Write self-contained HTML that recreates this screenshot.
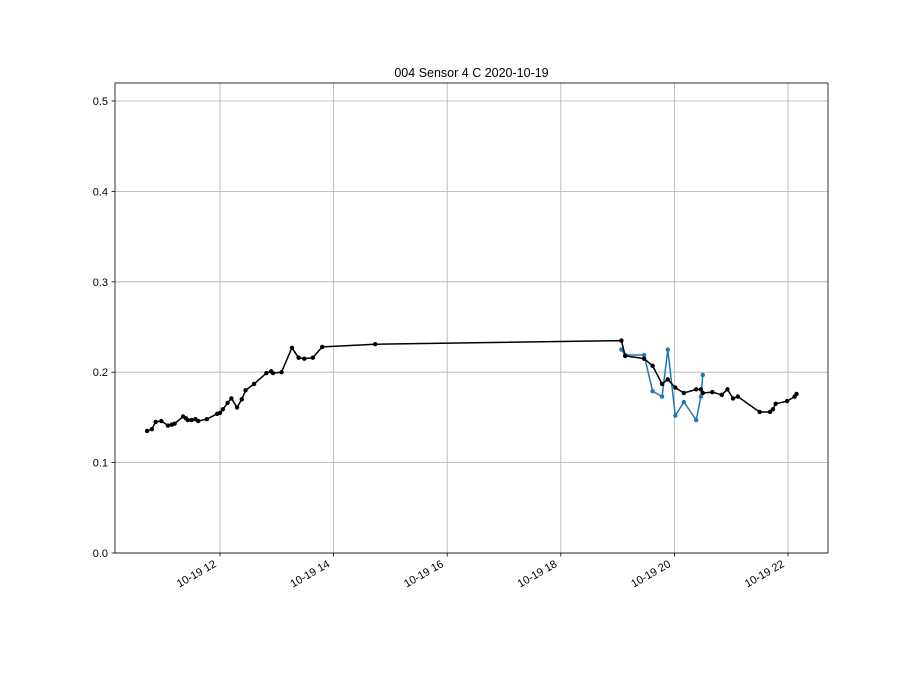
<!DOCTYPE html>
<html><head><meta charset="utf-8"><style>
html,body{margin:0;padding:0;background:#fff;}
svg{display:block;font-family:"Liberation Sans","DejaVu Sans",sans-serif;}
</style></head><body>
<svg id="c" width="921" height="691"></svg>
<script>
const blackTimes=["10:43","10:48","10:52","10:58","11:05","11:09","11:12","11:21","11:24","11:26","11:30","11:34","11:37","11:46","11:57","12:00","12:03","12:08","12:12","12:18","12:23","12:27","12:36","12:49","12:54","12:56","13:05","13:16","13:23","13:29","13:38","13:48","14:44","19:04","19:08","19:28","19:37","19:47","19:53","20:01","20:10","20:23","20:28","20:30","20:40","20:50","20:56","21:02","21:07","21:30","21:41","21:44","21:47","21:59","22:07","22:09"];
const blackValues=[0.135,0.137,0.145,0.146,0.141,0.142,0.143,0.151,0.149,0.147,0.147,0.148,0.146,0.148,0.154,0.155,0.159,0.166,0.171,0.161,0.170,0.180,0.187,0.199,0.201,0.199,0.200,0.227,0.216,0.215,0.216,0.228,0.231,0.235,0.218,0.215,0.207,0.187,0.192,0.183,0.177,0.181,0.181,0.177,0.178,0.175,0.181,0.171,0.173,0.156,0.156,0.159,0.165,0.168,0.173,0.176];
const blueTimes=["19:04","19:08","19:28","19:37","19:47","19:53","20:01","20:10","20:23","20:28","20:30"];
const blueValues=[0.225,0.219,0.219,0.179,0.173,0.225,0.152,0.167,0.147,0.173,0.197];
const yTicks=[0,0.1,0.2,0.3,0.4,0.5];
const xTicks=[12,14,16,18,20,22];
const xTickLabels=["10-19 12","10-19 14","10-19 16","10-19 18","10-19 20","10-19 22"];

const NS="http://www.w3.org/2000/svg";
const svg=document.getElementById('c');
const L=115,R=828,T=83,B=553;
function xs(h){return 220+(h-12)*56.8;}
function ys(v){return 553-v*904;}
function hr(t){const p=t.split(':');return +p[0]+(+p[1])/60;}
function mk(tag,attrs,parent){const e=document.createElementNS(NS,tag);for(const k in attrs)e.setAttribute(k,attrs[k]);(parent||svg).appendChild(e);return e;}

yTicks.forEach((v,i)=>{
  const g=mk('line',{x1:L,x2:R,y1:ys(v),y2:ys(v),stroke:'#b0b0b0','stroke-width':0.8});
  
  
  mk('line',{x1:L-3.5,x2:L,y1:ys(v),y2:ys(v),stroke:'#000','stroke-width':0.8});
  const t=mk('text',{x:L-7,y:ys(v)+4,'text-anchor':'end','font-size':11,fill:'#000'});
  t.textContent=v.toFixed(1);
  
  
});
xTicks.forEach((h,i)=>{
  const x=xs(h);
  const g=mk('line',{x1:x,x2:x,y1:T,y2:B,stroke:'#b0b0b0','stroke-width':0.8});
  
  
  mk('line',{x1:x,x2:x,y1:B,y2:B+3.5,stroke:'#000','stroke-width':0.8});
  const ax=x-3, ay=B+13;
  const t=mk('text',{x:ax,y:ay,'text-anchor':'end','font-size':11,fill:'#000',transform:`rotate(-30 ${ax} ${ay})`});
  t.textContent=xTickLabels[i];
  
  
});

function series(times,vals,color,name){
  const pts=times.map((t,i)=>xs(hr(t)).toFixed(1)+','+ys(vals[i]).toFixed(1)).join(' ');
  const pl=mk('polyline',{points:pts,fill:'none',stroke:color,'stroke-width':1.5,'stroke-linejoin':'round'});
  
  
  times.forEach((t,i)=>{
    const c=mk('circle',{cx:xs(hr(t)),cy:ys(vals[i]),r:2.2,fill:color});
    
    
  });
}
series(blueTimes,blueValues,'#1f77b4','blue-series');
series(blackTimes,blackValues,'#000','black-series');

const fr=mk('rect',{x:L,y:T,width:R-L,height:B-T,fill:'none',stroke:'#000','stroke-width':0.8});


const title=mk('text',{x:(L+R)/2,y:77,'text-anchor':'middle','font-size':12.5,fill:'#000'});
title.textContent='004 Sensor 4 C 2020-10-19';


</script>
</body></html>
